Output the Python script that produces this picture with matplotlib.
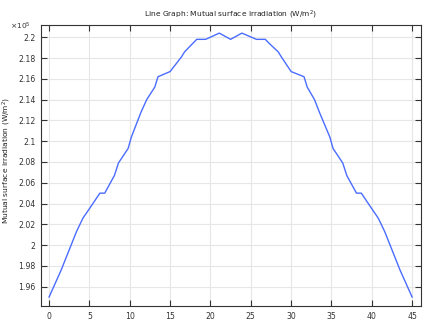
import matplotlib
matplotlib.use("Agg")
import matplotlib.pyplot as plt
from matplotlib.ticker import FuncFormatter, MultipleLocator

# data (irradiation in units of 1e5 W/m^2)
x_vals = [0, 1.5, 3.4, 4.2, 5.0, 6.3, 6.9, 8.1, 8.6, 9.8, 10.2, 11.4, 12.1, 13.1,
          13.5, 15.0, 16.4, 16.8, 17.8, 18.3, 19.4, 21.1, 22.5, 23.9, 25.7, 26.8,
          27.3, 28.4, 28.8, 30.0, 31.6, 32.0, 32.9, 33.5, 34.8, 35.2, 36.4, 36.9,
          38.1, 38.7, 40.0, 40.8, 41.6, 43.5, 45.0]
y_vals = [1.950, 1.976, 2.013, 2.026, 2.035, 2.050, 2.050, 2.067, 2.079, 2.093,
          2.104, 2.128, 2.140, 2.152, 2.162, 2.167, 2.181, 2.186, 2.194, 2.198,
          2.198, 2.204, 2.198, 2.204, 2.198, 2.198, 2.194, 2.186, 2.181, 2.167,
          2.162, 2.152, 2.140, 2.128, 2.104, 2.093, 2.079, 2.067, 2.050, 2.050,
          2.035, 2.026, 2.013, 1.976, 1.950]

title = "Line Graph: Mutual surface irradiation (W/m$^2$)"
ylabel = "Mutual surface irradiation (W/m$^2$)"

fig = plt.figure(figsize=(4.29, 3.22), dpi=100)
ax = fig.add_axes([41/429, 1-306/322, 380/429, 281/322])

ax.plot(x_vals, y_vals, color="#4a6cff", lw=1.0)

ax.set_xlim(-1.0, 46.1)
ax.set_ylim(1.9414, 2.2118)
ax.xaxis.set_major_locator(MultipleLocator(5))
ax.yaxis.set_major_locator(MultipleLocator(0.02))
ax.yaxis.set_major_formatter(FuncFormatter(lambda v, p: f"{v:.2f}".rstrip("0").rstrip(".")))

ax.grid(True, color="#e6e6e6", lw=0.8)
ax.set_axisbelow(True)
ax.tick_params(direction="in", top=True, right=True, labelsize=5.6,
               labelcolor="#333333", color="#333333", length=4, width=0.8, pad=4)
for s in ax.spines.values():
    s.set_color("#333333")
    s.set_linewidth(0.8)

ax.set_title(title, fontsize=5.4, color="#222222", pad=6)
fig.text(7/429, 1-160/322, ylabel, fontsize=5.4, color="#222222",
         rotation=90, ha="center", va="center")
fig.text(10/429, 1-30/322, r"$\times$10$^5$", fontsize=5.4, color="#333333")

fig.savefig("out.png", dpi=100)
